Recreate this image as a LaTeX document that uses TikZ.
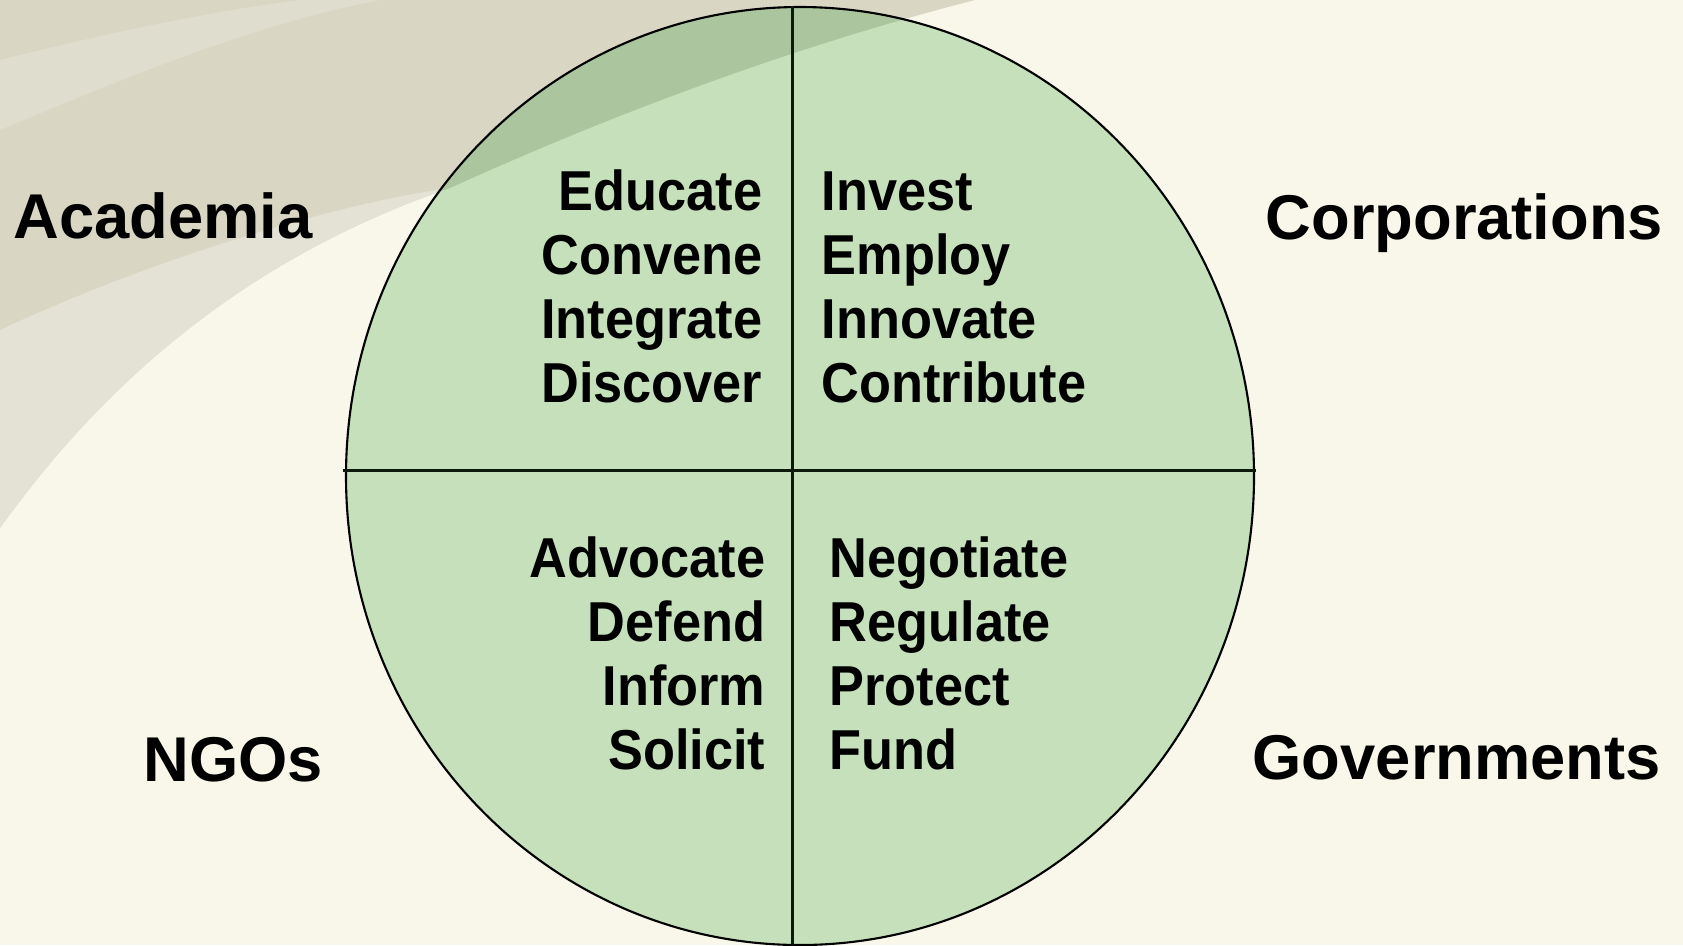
\documentclass[tikz,border=0pt]{standalone}
\usepackage{fontspec}
\setmainfont{Liberation Sans}
\newfontfamily\narrowsans{Liberation Sans}[FakeStretch=0.93]

\definecolor{cream}{HTML}{F9F7EA}
\definecolor{swoosh}{HTML}{D9D6C4}
\definecolor{swooshlight}{HTML}{E4E2D4}
\definecolor{leaf}{HTML}{C6E0BB}
\definecolor{leafshade}{HTML}{ABC69E}
\definecolor{rule}{HTML}{0B1A0B}

% outline of the beige swoosh in the top left corner
\newcommand{\swooshpath}{(0,0) -- (975,0) .. controls (780,50) and (600,120) .. (450,188)
  .. controls (270,250) and (120,360) .. (0,528) -- cycle}

\tikzset{
  sector/.style={font=\bfseries\fontsize{18}{21}\selectfont, inner sep=0pt},
  role/.style={font=\narrowsans\bfseries\fontsize{16}{19}\selectfont, inner sep=0pt},
  divider/.style={draw=rule, line width=0.85pt},
}

\begin{document}
\begin{tikzpicture}[x=0.01cm, y=-0.01cm] % one unit per pixel, y runs down
	\useasboundingbox (0,0) rectangle (1683,945);

	% Background and swoosh
	\fill[cream] (0,0) rectangle (1683,945);
	\fill[swoosh] \swooshpath;
	\fill[swooshlight] (450,188) .. controls (270,250) and (120,360) .. (0,528)
		-- (0,330) .. controls (150,260) and (330,205) .. (450,188);
	\fill[swooshlight, opacity=0.6] (0,60) .. controls (120,30) and (220,10) .. (300,0)
		-- (380,0) .. controls (250,25) and (120,80) .. (0,130) -- cycle;

	% The disc, darker where the swoosh runs behind it
	\fill[leaf] (800,476) ellipse (454 and 469);
	\begin{scope}
		\clip (800,476) ellipse (454 and 469);
		\fill[leafshade] \swooshpath;
	\end{scope}
	\draw[black, line width=0.6pt] (800,476) ellipse (454 and 469);

	% Quadrant dividers
	\coordinate (div top) at (792,6);
	\coordinate (div bottom) at (792,945);
	\coordinate (div left) at (343,470);
	\coordinate (div right) at (1256,470);
	\draw[divider] (div top) -- (div bottom);
	\draw[divider] (div left) -- (div right);

	% Roles in each quadrant
	\foreach \w [count=\i from 0] in {Educate,Convene,Integrate,Discover}
		\node[role, anchor=base east] (acad\i) at (763,210+64*\i) {\w};
	\foreach \w [count=\i from 0] in {Invest,Employ,Innovate,Contribute}
		\node[role, anchor=base west] (corp\i) at (821,210+64*\i) {\w};
	\foreach \w [count=\i from 0] in {Advocate,Defend,Inform,Solicit}
		\node[role, anchor=base east] (ngo\i) at (766,577+64*\i) {\w};
	\foreach \w [count=\i from 0] in {Negotiate,Regulate,Protect,Fund}
		\node[role, anchor=base west] (gov\i) at (829,577+64*\i) {\w};

	% Sectors around the disc
	\node[sector, anchor=base west] (academia) at (13,238) {Academia};
	\node[sector, anchor=base west] (corporations) at (1265,239) {Corporations};
	\node[sector, anchor=base west] (ngos) at (143,781) {NGOs};
	\node[sector, anchor=base west] (governments) at (1252,779) {Governments};
\end{tikzpicture}
\end{document}
